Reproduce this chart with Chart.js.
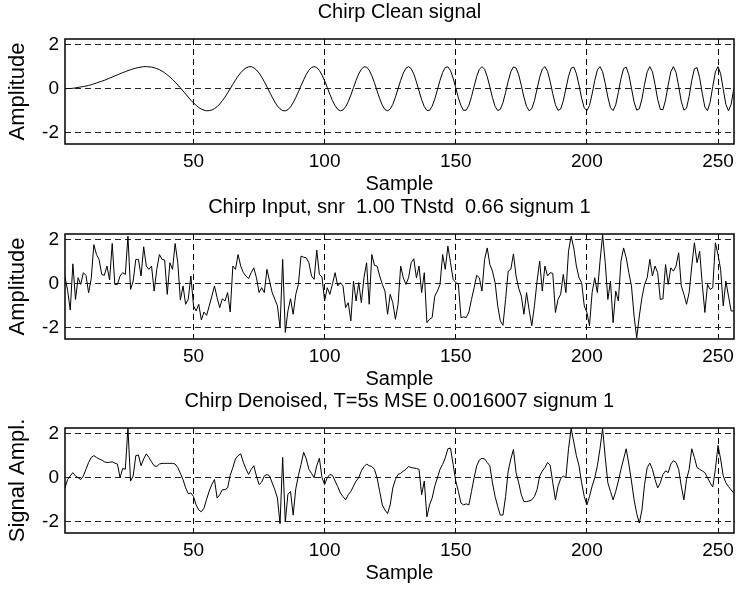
<!DOCTYPE html>
<html>
<head>
<meta charset="utf-8">
<script src="https://cdn.jsdelivr.net/npm/chart.js@4.4.0/dist/chart.umd.min.js"></script>
<style>
  body { margin: 0; background: #fff; }
  #wrap { position: relative; width: 740px; height: 590px; background: #fff; }
  .panel { position: absolute; left: 0; width: 740px; height: 195px; }
</style>
</head>
<body>
<div id="wrap">
  <div class="panel" style="top:0px"><canvas id="clean-chart" width="740" height="195"></canvas></div>
  <div class="panel" style="top:195px"><canvas id="input-chart" width="740" height="195"></canvas></div>
  <div class="panel" style="top:389px"><canvas id="denoised-chart" width="740" height="195"></canvas></div>
</div>
<script>
// sample index 1..256 (x axis)
const samples = Array.from({ length: 256 }, (_, i) => i + 1);
const xTicks = [50, 100, 150, 200, 250];
const yTicks = [-2, 0, 2];

const panelTitles = [
    "Chirp Clean signal",
    "Chirp Input, snr  1.00 TNstd  0.66 signum 1",
    "Chirp Denoised, T=5s MSE 0.0016007 signum 1",
];
const yLabels = ["Amplitude", "Amplitude", "Signal Ampl."];
const xLabel = "Sample";

// values
const cleanSignal = [
    0.00, 0.01, 0.01, 0.02, 0.04, 0.06, 0.08, 0.10, 0.12, 0.15,
    0.18, 0.22, 0.26, 0.30, 0.34, 0.38, 0.43, 0.48, 0.53, 0.58,
    0.63, 0.68, 0.73, 0.77, 0.82, 0.86, 0.90, 0.93, 0.96, 0.98,
    1.00, 1.00, 0.99, 0.98, 0.95, 0.91, 0.86, 0.80, 0.72, 0.63,
    0.53, 0.42, 0.30, 0.17, 0.04, -0.10, -0.24, -0.38, -0.52, -0.64,
    -0.75, -0.85, -0.92, -0.97, -1.00, -0.99, -0.96, -0.90, -0.81, -0.69,
    -0.54, -0.38, -0.19, 0.00, 0.20, 0.39, 0.57, 0.72, 0.85, 0.94,
    0.99, 1.00, 0.95, 0.85, 0.71, 0.53, 0.32, 0.09, -0.15, -0.38,
    -0.60, -0.78, -0.91, -0.99, -1.00, -0.95, -0.82, -0.63, -0.40, -0.14,
    0.14, 0.40, 0.65, 0.84, 0.96, 1.00, 0.96, 0.83, 0.62, 0.36,
    0.06, -0.25, -0.54, -0.77, -0.93, -1.00, -0.96, -0.82, -0.59, -0.29,
    0.05, 0.38, 0.67, 0.88, 0.99, 0.98, 0.84, 0.59, 0.27, -0.10,
    -0.45, -0.75, -0.94, -1.00, -0.92, -0.71, -0.38, 0.00, 0.38, 0.71,
    0.93, 1.00, 0.91, 0.67, 0.31, -0.10, -0.50, -0.81, -0.98, -0.98,
    -0.79, -0.47, -0.05, 0.38, 0.74, 0.96, 0.99, 0.82, 0.48, 0.04,
    -0.41, -0.77, -0.98, -0.97, -0.75, -0.36, 0.11, 0.56, 0.88, 1.00,
    0.88, 0.55, 0.08, -0.40, -0.80, -0.99, -0.93, -0.63, -0.17, 0.34,
    0.77, 0.99, 0.94, 0.63, 0.15, -0.38, -0.80, -1.00, -0.90, -0.54,
    -0.01, 0.52, 0.89, 1.00, 0.79, 0.33, -0.23, -0.72, -0.98, -0.92,
    -0.55, 0.00, 0.56, 0.93, 0.98, 0.69, 0.16, -0.43, -0.87, -0.99,
    -0.76, -0.24, 0.37, 0.85, 1.00, 0.77, 0.24, -0.38, -0.86, -0.99,
    -0.73, -0.17, 0.46, 0.91, 0.98, 0.63, 0.02, -0.60, -0.97, -0.91,
    -0.46, 0.20, 0.77, 1.00, 0.77, 0.19, -0.48, -0.93, -0.95, -0.51,
    0.17, 0.77, 1.00, 0.74, 0.11, -0.58, -0.97, -0.88, -0.34, 0.38,
    0.90, 0.96, 0.50, -0.22, -0.83, -0.99, -0.61, 0.10, 0.76, 1.00,
    0.68, -0.02, -0.71, -1.00, -0.71, 0.00,
];

const noisyInput = [
    0.30, -0.30, -1.19, 0.90, -0.71, 0.27, -0.03, 0.50, 0.38, -0.41,
    0.23, 1.77, 1.32, 1.10, 0.42, 0.38, 0.80, 0.17, 1.82, -0.03,
    -0.03, 0.35, 0.50, 0.42, 2.15, -0.26, 0.12, 1.10, 1.10, 0.35,
    1.67, 0.80, 0.65, 0.80, -0.33, 0.65, 1.32, 1.10, 1.07, -0.48,
    0.95, 0.65, 1.82, 0.95, -0.74, -0.10, -0.93, -0.70, 0.35, -1.00,
    -1.23, -0.93, -1.64, -1.28, -1.43, -1.00, -0.56, -0.10, -0.63, -1.08,
    -0.68, -0.78, -0.40, -1.28, 0.80, 0.65, 1.32, 0.80, 0.50, 0.35,
    0.23, 0.50, 0.72, 0.27, -0.40, -0.18, -0.40, 0.65, 0.12, -0.40,
    -0.70, -1.00, -1.98, 1.10, -2.20, -1.23, -0.68, -1.38, -0.48, -0.03,
    1.25, 1.20, 1.17, 0.95, 0.35, 0.20, 1.52, 0.42, 0.30, -0.78,
    -0.18, -0.48, 0.00, 0.50, -0.10, 0.05, -0.10, -1.08, -0.86, -1.68,
    0.12, -0.78, 0.05, -0.86, 0.27, 0.95, -0.93, 1.32, 0.83, 0.80,
    0.35, -0.03, -0.33, -1.38, -0.48, -0.86, -1.61, -0.93, 0.80, 0.27,
    -0.03, 0.27, 0.95, 1.13, 0.27, 0.80, -0.40, 0.50, -1.76, -1.61,
    -1.53, -0.56, -0.33, -0.03, 1.32, 0.65, 1.70, 0.95, 0.20, 0.05,
    -0.03, -1.53, -1.50, -1.53, -1.28, -0.71, -0.18, 0.38, 0.27, -0.33,
    1.10, 1.62, 0.87, 0.57, 0.05, -1.00, -1.68, -1.88, -0.71, 0.57,
    0.65, 1.35, 0.35, -0.20, -0.56, -1.38, -0.40, -1.20, -1.90, -1.00,
    0.12, 1.02, -0.33, 0.80, 0.35, 0.50, 0.47, -1.30, -0.71, -0.48,
    0.42, -0.40, 1.47, 2.15, 1.62, 0.80, 0.27, 0.05, -1.00, -1.30,
    -1.90, -0.40, 0.27, -0.40, 1.00, 2.22, 0.95, -0.71, 0.12, -1.76,
    -0.33, -0.78, 1.02, 1.62, 1.17, 0.50, -0.10, -1.46, -2.45, -1.46,
    -0.63, -0.03, 0.27, 1.10, 0.35, 0.80, 0.50, -0.71, -0.68, 0.87,
    -0.03, 0.72, 0.57, 0.80, 1.40, -0.10, -0.48, -0.93, -0.40, 0.80,
    1.85, 0.95, 1.47, -0.03, -1.30, -0.03, -0.26, -0.18, 1.85, 1.32,
    0.65, -1.00, 0.12, -0.56, -1.23, -1.23,
];

const denoisedSignal = [
    -0.46, -0.08, 0.08, 0.23, 0.08, 0.00, -0.08, 0.08, 0.38, 0.69,
    0.92, 1.00, 0.92, 0.85, 0.80, 0.72, 0.69, 0.70, 0.72, 0.66,
    0.62, 0.00, 0.42, 0.38, 2.25, -0.15, 0.08, 1.00, 1.03, 0.54,
    0.85, 1.08, 0.92, 0.72, 0.54, 0.51, 0.62, 0.65, 0.65, 0.65,
    0.65, 0.65, 0.62, 0.46, 0.20, -0.08, -0.46, -0.72, -0.69, -0.85,
    -1.23, -1.46, -1.54, -1.38, -0.97, -0.60, -0.30, -0.08, -0.92, -0.77,
    -0.54, -0.54, -0.46, 0.11, 0.46, 0.85, 1.00, 1.08, 0.70, 0.40,
    0.15, 0.38, 0.54, 0.08, -0.31, -0.20, 0.08, 0.15, 0.08, -0.23,
    -0.54, -0.92, -2.08, 0.92, -2.00, -0.75, -0.62, -1.69, -0.50, 0.10,
    0.60, 1.15, 0.85, 0.38, 0.20, 0.00, 0.55, 0.88, 0.00, -0.31,
    0.00, 0.15, 0.11, -0.15, -0.40, -0.69, -0.85, -1.00, -0.77, -0.62,
    -0.38, -0.15, 0.00, 0.31, 0.50, 0.62, 0.54, 0.51, 0.38, 0.00,
    -0.62, -1.23, -1.46, -1.62, -1.23, -0.46, -0.08, 0.15, 0.20, 0.30,
    0.38, 0.51, 0.46, 0.44, 0.42, 0.38, -0.77, -0.15, -1.77, -1.23,
    -0.92, -0.38, 0.00, 0.38, 0.60, 0.90, 1.31, 1.34, 0.60, -0.15,
    -0.62, -1.15, -1.23, -1.18, -1.23, -0.62, 0.00, 0.54, 0.80, 0.88,
    0.85, 0.69, 0.54, -0.23, -0.85, -1.30, -1.69, -1.69, -0.85, 0.30,
    0.85, 1.28, 0.23, -0.23, -0.77, -1.08, -1.08, -1.05, -1.00, -0.85,
    -0.54, 0.08, 0.30, 0.46, 0.69, 0.57, -0.23, -1.00, -0.38, -0.05,
    0.08, 0.00, 1.31, 2.23, 1.62, 1.00, 0.54, -0.23, -0.85, -1.23,
    -0.85, -0.38, 0.00, 0.54, 1.31, 2.23, 0.92, -0.23, -0.62, -1.00,
    -0.62, -0.15, 0.38, 0.85, 1.31, 0.62, -0.15, -1.00, -1.62, -2.05,
    -1.46, -0.30, 0.46, 0.66, 0.38, -0.08, -0.46, -0.23, 0.15, 0.31,
    0.23, 0.62, 0.77, 0.69, 0.38, -0.38, -1.00, -0.08, 0.38, 1.31,
    0.92, 0.46, 0.38, 0.31, 0.23, 0.00, -0.23, -0.42, 0.38, 1.46,
    0.85, 0.08, -0.23, -0.40, -0.55, -0.69,
];

const FONT = "'Liberation Sans', Arial, Helvetica, sans-serif";

// draws the full box around the plot area, like matlab's axes
const boxPlugin = {
    id: "axesBox",
    afterDraw(chart) {
        const { ctx, chartArea } = chart;
        ctx.save();
        ctx.strokeStyle = "#000";
        ctx.lineWidth = 1.5;
        ctx.strokeRect(
            Math.round(chartArea.left),
            Math.round(chartArea.top),
            Math.round(chartArea.width),
            Math.round(chartArea.height)
        );
        ctx.restore();
    },
};

function makePanel(canvasId, title, yLabel, values) {
    return new Chart(document.getElementById(canvasId), {
        type: "line",
        data: {
            labels: samples,
            datasets: [
                {
                    data: values,
                    borderColor: "#000",
                    borderWidth: 1,
                    pointRadius: 0,
                    tension: 0,
                    fill: false,
                },
            ],
        },
        options: {
            responsive: false,
            animation: false,
            events: [],
            layout: { padding: { left: 0, right: 3, top: 0, bottom: 0 } },
            plugins: {
                legend: { display: false },
                tooltip: { enabled: false },
                title: {
                    display: true,
                    fullSize: false, // centre it over the plot area
                    text: title,
                    color: "#000",
                    font: { family: FONT, size: 20, weight: "normal", lineHeight: 1.25 },
                    padding: { top: 0, bottom: 14 },
                },
            },
            scales: {
                x: {
                    type: "linear",
                    min: 1,
                    max: 256,
                    afterBuildTicks: (scale) => {
                        scale.ticks = xTicks.map((v) => ({ value: v }));
                    },
                    afterFit: (scale) => {
                        scale.height = 51;
                    },
                    ticks: {
                        color: "#000",
                        font: { family: FONT, size: 19 },
                        padding: 6,
                        maxRotation: 0,
                    },
                    grid: { color: "#000", lineWidth: 1, drawTicks: false },
                    border: { display: false, dash: [6, 4] },
                    title: {
                        display: true,
                        text: xLabel,
                        color: "#000",
                        font: { family: FONT, size: 20, lineHeight: 1.2 },
                        padding: { top: 0, bottom: -1 },
                    },
                },
                y: {
                    min: -2.5,
                    max: 2.25,
                    afterBuildTicks: (scale) => {
                        scale.ticks = yTicks.map((v) => ({ value: v }));
                    },
                    afterFit: (scale) => {
                        scale.width = 65;
                    },
                    ticks: {
                        color: "#000",
                        font: { family: FONT, size: 19 },
                        padding: 6,
                    },
                    grid: { color: "#222", lineWidth: 1, drawTicks: false },
                    border: { display: false, dash: [6, 4] },
                    title: {
                        display: true,
                        text: yLabel,
                        color: "#000",
                        font: { family: FONT, size: 22, lineHeight: 1.2 },
                        padding: { top: 5, bottom: 0 },
                    },
                },
            },
        },
        plugins: [boxPlugin],
    });
}

makePanel("clean-chart", panelTitles[0], yLabels[0], cleanSignal);
makePanel("input-chart", panelTitles[1], yLabels[1], noisyInput);
makePanel("denoised-chart", panelTitles[2], yLabels[2], denoisedSignal);
</script>
</body>
</html>
